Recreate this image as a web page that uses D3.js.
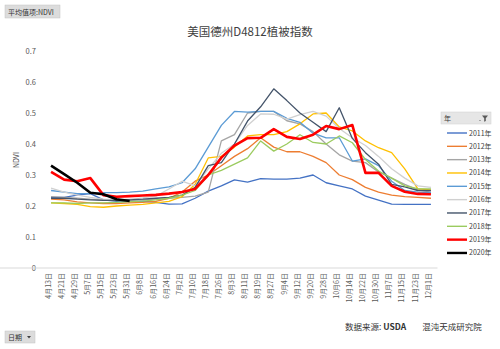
<!DOCTYPE html>
<html>
<head>
<meta charset="utf-8">
<script src="https://cdn.jsdelivr.net/npm/d3@7"></script>
<style>
  html, body { margin: 0; padding: 0; background: #fff; }
  svg { display: block; }
  text { font-family: "Noto Sans CJK SC", "Noto Sans", sans-serif; }
</style>
</head>
<body>
<svg id="chart" width="500" height="349"></svg>
<script>
// 8-day composite dates
const dates = ["4月13日","4月21日","4月29日","5月7日","5月15日","5月23日","5月31日","6月8日","6月16日","6月24日",
  "7月2日","7月10日","7月18日","7月26日","8月3日","8月11日","8月19日","8月27日","9月4日","9月12日",
  "9月20日","9月28日","10月6日","10月14日","10月22日","10月30日","11月7日","11月15日","11月23日","12月1日"];

const years = ["2011年","2012年","2013年","2014年","2015年","2016年","2017年","2018年","2019年","2020年"];

const ndvi2011 = [0.228,0.228,0.235,0.240,0.220,0.215,0.214,0.216,0.212,0.206,0.207,0.225,0.248,0.265,0.284,0.277,0.288,0.287,0.287,0.290,0.300,0.275,0.265,0.255,0.232,0.219,0.206,0.205,0.205,0.205];
const ndvi2012 = [0.222,0.220,0.213,0.210,0.208,0.208,0.210,0.212,0.215,0.225,0.245,0.280,0.300,0.330,0.360,0.385,0.420,0.390,0.375,0.375,0.360,0.340,0.300,0.285,0.260,0.245,0.235,0.230,0.228,0.225];
const ndvi2013 = [0.230,0.228,0.225,0.222,0.220,0.218,0.218,0.220,0.222,0.225,0.228,0.232,0.245,0.410,0.430,0.500,0.505,0.505,0.475,0.465,0.440,0.400,0.365,0.345,0.340,0.310,0.290,0.270,0.252,0.245];
const ndvi2014 = [0.210,0.208,0.205,0.198,0.196,0.200,0.203,0.205,0.210,0.215,0.230,0.270,0.355,0.360,0.390,0.426,0.430,0.430,0.440,0.465,0.497,0.500,0.455,0.442,0.410,0.388,0.372,0.320,0.255,0.252];
const ndvi2015 = [0.250,0.245,0.240,0.240,0.243,0.243,0.245,0.248,0.255,0.262,0.275,0.320,0.390,0.460,0.505,0.503,0.505,0.505,0.483,0.470,0.435,0.420,0.420,0.345,0.352,0.330,0.280,0.250,0.245,0.243];
const ndvi2016 = [0.258,0.245,0.235,0.228,0.222,0.220,0.222,0.226,0.232,0.255,0.280,0.265,0.320,0.370,0.400,0.460,0.497,0.496,0.480,0.495,0.505,0.490,0.450,0.420,0.395,0.360,0.320,0.290,0.265,0.260];
const ndvi2017 = [0.225,0.225,0.222,0.220,0.218,0.218,0.220,0.222,0.225,0.228,0.235,0.260,0.330,0.340,0.400,0.474,0.520,0.578,0.540,0.500,0.470,0.440,0.517,0.418,0.372,0.335,0.270,0.262,0.250,0.250];
const ndvi2018 = [0.210,0.210,0.208,0.210,0.210,0.212,0.214,0.216,0.220,0.225,0.235,0.250,0.300,0.315,0.335,0.355,0.410,0.377,0.400,0.430,0.405,0.400,0.426,0.404,0.350,0.313,0.290,0.265,0.256,0.255];
const ndvi2019 = [0.310,0.285,0.280,0.290,0.235,0.230,0.232,0.234,0.236,0.240,0.245,0.255,0.300,0.356,0.395,0.419,0.420,0.448,0.423,0.416,0.430,0.458,0.448,0.461,0.307,0.307,0.265,0.246,0.239,0.238];
const ndvi2020 = [0.330,0.303,0.275,0.243,0.238,0.222,0.216];

const seriesValues = [ndvi2011, ndvi2012, ndvi2013, ndvi2014, ndvi2015, ndvi2016, ndvi2017, ndvi2018, ndvi2019, ndvi2020];
const yTicks = [0, 0.1, 0.2, 0.3, 0.4, 0.5, 0.6, 0.7];

const colors = ["#4472C4","#ED7D31","#A5A5A5","#FFC000","#5B9BD5","#D0D0D0","#44546A","#9BCB5F","#FF0000","#000000"];
const widths = [1.3,1.3,1.3,1.3,1.3,1.3,1.3,1.3,2.6,2.6];

const svg = d3.select("#chart");

const x = d3.scaleBand().domain(dates).range([44.5, 437.5]).paddingInner(0).paddingOuter(0);
const cx = d => x(d) + x.bandwidth() / 2;
const y = d3.scaleLinear().domain([0, 0.7]).range([268, 51]);

// title
svg.append("text")
  .attr("x", 250).attr("y", 36)
  .attr("text-anchor", "middle")
  .attr("font-size", 11.5).attr("fill", "#404040")
  .text("美国德州D4812植被指数");

// y axis
const yAxis = svg.append("g")
  .attr("transform", "translate(40,0)")
  .call(d3.axisLeft(y).tickValues(yTicks).tickSize(0).tickPadding(4)
    .tickFormat(d => d === 0 ? "0" : d3.format(".1f")(d)));
yAxis.select(".domain").remove();
yAxis.selectAll("text").attr("font-size", 7.5).attr("fill", "#595959")
  .style("font-family", "'Noto Sans CJK SC', sans-serif");

svg.append("text")
  .attr("transform", "translate(19,160) rotate(-90)")
  .attr("text-anchor", "middle")
  .attr("font-size", 7).attr("fill", "#404040")
  .text("NDVI");

// x axis
const xAxis = svg.append("g")
  .attr("transform", "translate(0,268)")
  .call(d3.axisBottom(x).tickSize(0).tickPadding(0));
xAxis.select(".domain").attr("stroke", "#d9d9d9").attr("d", "M-3.5,0H437.5");
xAxis.selectAll("text")
  .attr("font-size", 7).attr("fill", "#595959")
  .style("font-family", "'Noto Sans CJK SC', sans-serif")
  .attr("text-anchor", "end")
  .attr("transform", "rotate(-90)")
  .attr("x", -5).attr("y", 0).attr("dy", "-0.05em");

// series lines
const line = d3.line()
  .defined(d => d != null)
  .x((d, i) => cx(dates[i]))
  .y(d => y(d));

const lines = svg.append("g").attr("fill", "none")
  .attr("stroke-linejoin", "round");
seriesValues.forEach((vals, k) => {
  lines.append("path")
    .datum(vals)
    .attr("stroke", colors[k])
    .attr("stroke-width", widths[k])
    .attr("d", line);
});

// legend
const lg = svg.append("g");
lg.append("rect").attr("x", 441).attr("y", 112).attr("width", 50).attr("height", 12)
  .attr("fill", "#e6e6e6").attr("stroke", "#d0d0d0").attr("stroke-width", 0.5);
lg.append("text").attr("x", 444).attr("y", 121).attr("font-size", 7).attr("fill", "#404040").text("年");
lg.append("path").attr("d", "M482,115.5 h6 l-2.2,2.8 v2.7 l-1.6,0.8 v-3.5 z").attr("fill", "#595959");
lg.append("circle").attr("cx", 480).attr("cy", 120.5).attr("r", 0.6).attr("fill", "#595959");

years.forEach((name, k) => {
  const yy = 133 + k * 13.33;
  lg.append("line").attr("x1", 447).attr("x2", 467).attr("y1", yy).attr("y2", yy)
    .attr("stroke", colors[k]).attr("stroke-width", widths[k] > 2 ? 2.4 : 1.4);
  lg.append("text").attr("x", 469).attr("y", yy + 2.5)
    .attr("font-size", 7).attr("fill", "#404040").text(name);
});

// field buttons
svg.append("rect").attr("x", 5).attr("y", 5).attr("width", 55).attr("height", 13)
  .attr("fill", "#dcdcdc").attr("stroke", "#c4c4c4").attr("stroke-width", 0.5);
svg.append("text").attr("x", 8).attr("y", 14.5).attr("font-size", 7).attr("fill", "#333")
  .text("平均值项:NDVI");

svg.append("rect").attr("x", 5).attr("y", 331).attr("width", 30).attr("height", 12)
  .attr("fill", "#dcdcdc").attr("stroke", "#c4c4c4").attr("stroke-width", 0.5);
svg.append("text").attr("x", 8).attr("y", 340).attr("font-size", 7).attr("fill", "#333").text("日期");
svg.append("path").attr("d", "M27,336 h4 l-2,2.5 z").attr("fill", "#404040");

// source note
const src = svg.append("text").attr("x", 345).attr("y", 330).attr("font-size", 8.5).attr("fill", "#333");
src.append("tspan").text("数据来源: ");
src.append("tspan").attr("font-weight", "bold").text("USDA");
src.append("tspan").attr("dx", 16).text("混沌天成研究院");
</script>
</body>
</html>
